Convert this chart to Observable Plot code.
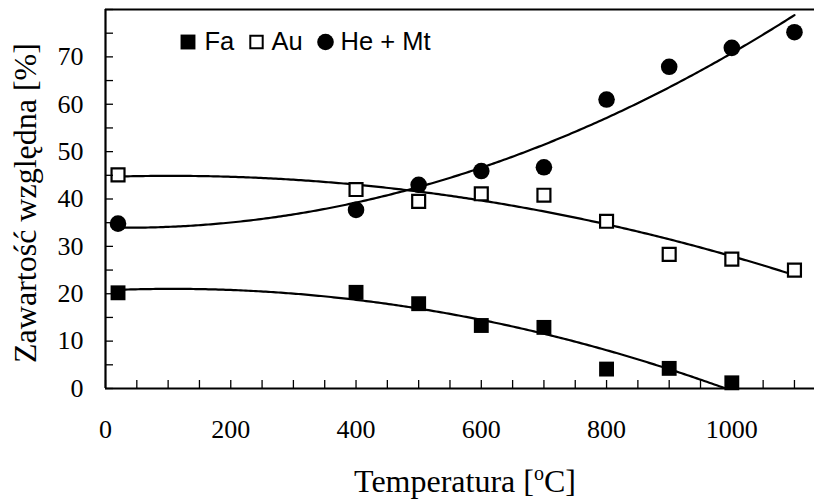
<!DOCTYPE html>
<html>
<head>
<meta charset="utf-8">
<script src="https://cdn.jsdelivr.net/npm/d3@7"></script>
<script src="https://cdn.jsdelivr.net/npm/@observablehq/plot@0.6"></script>
<style>
  html, body { margin: 0; padding: 0; background: #fff; }
  #chart svg { display: block; }
</style>
</head>
<body>
<div id="chart"></div>
<script>
// ---- data ----
const temps = [20, 400, 500, 600, 700, 800, 900, 1000, 1100];
const fa    = [20.2, 20.3, 17.9, 13.3, 12.9, 4.1, 4.25, 1.2, null];
const au    = [45.1, 42.0, 39.5, 41.1, 40.8, 35.3, 28.3, 27.3, 25.0];
const heMt  = [34.8, 37.7, 43.0, 45.9, 46.7, 61.0, 67.9, 71.9, 75.2];
const seriesNames = ["Fa", "Au", "He + Mt"];
const xLabelTicks = [0, 200, 400, 600, 800, 1000];
const yLabelTicks = [0, 10, 20, 30, 40, 50, 60, 70];
const xMinorTicks = d3.range(0, 1101, 50);
const yMinorTicks = d3.range(0, 81, 5);
const xTitle = "Temperatura [oC]";
const yTitle = "Zawartość względna [%]";

// ---- build tables ----
function pts(vals) {
  return temps.map((t, i) => ({x: t, y: vals[i]})).filter(d => d.y != null);
}
const faPts = pts(fa), auPts = pts(au), hePts = pts(heMt);

// 2nd-order least-squares trend (as in the original spreadsheet trendline)
function quadTrend(p) {
  const s = 1000;
  let S0 = 0, S1 = 0, S2 = 0, S3 = 0, S4 = 0, T0 = 0, T1 = 0, T2 = 0;
  for (const {x, y} of p) {
    const u = x / s;
    S0 += 1; S1 += u; S2 += u * u; S3 += u ** 3; S4 += u ** 4;
    T0 += y; T1 += u * y; T2 += u * u * y;
  }
  const det3 = (m) =>
    m[0][0] * (m[1][1] * m[2][2] - m[1][2] * m[2][1]) -
    m[0][1] * (m[1][0] * m[2][2] - m[1][2] * m[2][0]) +
    m[0][2] * (m[1][0] * m[2][1] - m[1][1] * m[2][0]);
  const A = [[S0, S1, S2], [S1, S2, S3], [S2, S3, S4]];
  const B = [T0, T1, T2];
  const D = det3(A);
  const coef = [0, 1, 2].map(k => det3(A.map((row, r) => row.map((v, c) => (c === k ? B[r] : v)))) / D);
  const x0 = d3.min(p, d => d.x), x1 = d3.max(p, d => d.x);
  return d3.range(x0, x1 + 0.001, 4).concat([x1]).map(x => {
    const u = x / s;
    return {x, y: coef[0] + coef[1] * u + coef[2] * u * u};
  });
}

const fmt = d3.format("d");
const sans = "'Liberation Sans', Arial, sans-serif";

const chart = Plot.plot({
  width: 814,
  height: 502,
  marginLeft: 105,
  marginRight: 0,
  marginTop: 9,
  marginBottom: 114,
  x: {domain: [0, 1132]},
  y: {domain: [0, 80]},
  style: {fontFamily: "'Liberation Serif', 'Times New Roman', serif", fontSize: "26px", color: "black", background: "white"},
  marks: [
    // trend lines
    Plot.line(quadTrend(faPts), {x: "x", y: "y", stroke: "black", strokeWidth: 2.2, clip: true}),
    Plot.line(quadTrend(auPts), {x: "x", y: "y", stroke: "black", strokeWidth: 2.2, clip: true}),
    Plot.line(quadTrend(hePts), {x: "x", y: "y", stroke: "black", strokeWidth: 2.2, clip: true}),
    // data points
    Plot.dot(faPts, {x: "x", y: "y", symbol: "square", r: 8.4, fill: "black", stroke: "none"}),
    Plot.dot(auPts, {x: "x", y: "y", symbol: "square", r: 7.3, fill: "white", stroke: "black", strokeWidth: 2.2}),
    Plot.dot(hePts, {x: "x", y: "y", symbol: "circle", r: 8.3, fill: "black", stroke: "none"}),
    // axis lines (left, bottom, top)
    Plot.ruleX([0], {stroke: "black", strokeWidth: 2.2}),
    Plot.ruleY([0], {stroke: "black", strokeWidth: 2.2}),
    Plot.ruleY([80], {stroke: "black", strokeWidth: 2.2}),
    // inward tick marks
    Plot.axisX(xMinorTicks, {tickSize: -8, fill: "none", strokeWidth: 1.3, label: null}),
    Plot.axisY(yMinorTicks, {tickSize: -8, fill: "none", strokeWidth: 1.3, label: null}),
    // tick labels
    Plot.axisX(xLabelTicks, {tickSize: 0, tickPadding: 31, tickFormat: fmt, label: null, fontSize: 26}),
    Plot.axisY(yLabelTicks, {tickSize: 0, tickPadding: 22, tickFormat: fmt, label: null, fontSize: 26}),
    // axis titles
    Plot.text([xTitle], {text: d => d, frameAnchor: "bottom", textAnchor: "middle", dx: 5, dy: 93.5, lineAnchor: "middle", fontSize: 32}),
    Plot.text([yTitle], {text: d => d, frameAnchor: "left", textAnchor: "middle", dx: -80, dy: 4, rotate: -90, lineAnchor: "middle", fontSize: 32}),
    // legend
    Plot.dot([seriesNames[0]], {frameAnchor: "top-left", dx: 82.5, dy: 32.5, symbol: "square", r: 8.4, fill: "black", stroke: "none"}),
    Plot.dot([seriesNames[1]], {frameAnchor: "top-left", dx: 151, dy: 32.5, symbol: "square", r: 7.0, fill: "white", stroke: "black", strokeWidth: 2}),
    Plot.dot([seriesNames[2]], {frameAnchor: "top-left", dx: 220, dy: 32.5, symbol: "circle", r: 8.3, fill: "black", stroke: "none"}),
    Plot.text([seriesNames[0]], {text: d => d, frameAnchor: "top-left", dx: 99, dy: 32.6, textAnchor: "start", lineAnchor: "middle", fontFamily: sans, fontSize: 25.5}),
    Plot.text([seriesNames[1]], {text: d => d, frameAnchor: "top-left", dx: 166, dy: 32.6, textAnchor: "start", lineAnchor: "middle", fontFamily: sans, fontSize: 25.5}),
    Plot.text([seriesNames[2]], {text: d => d, frameAnchor: "top-left", dx: 235, dy: 32.6, textAnchor: "start", lineAnchor: "middle", fontFamily: sans, fontSize: 25.5})
  ]
});

// superscript "o" in the x-axis title
d3.select(chart).selectAll("text").each(function () {
  if (this.textContent === xTitle) {
    const t = d3.select(this);
    t.text(null);
    t.append("tspan").text("Temperatura [");
    t.append("tspan").attr("dy", -12).attr("font-size", 20).text("o");
    t.append("tspan").attr("dy", 12).text("C]");
  }
});

document.getElementById("chart").append(chart);
</script>
</body>
</html>
